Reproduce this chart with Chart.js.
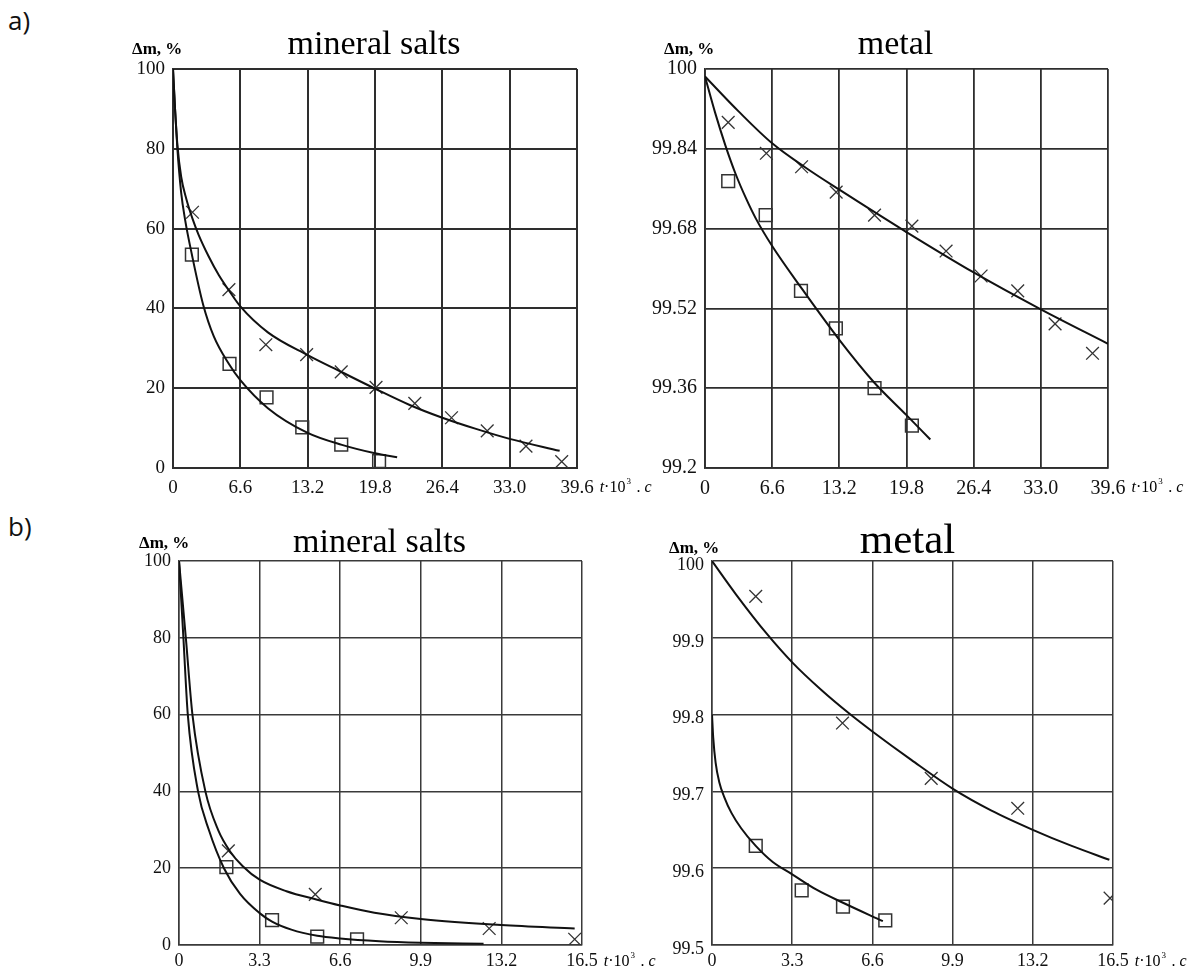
<!DOCTYPE html>
<html>
<head>
<meta charset="utf-8">
<script src="https://cdn.jsdelivr.net/npm/chart.js@4.4.1/dist/chart.umd.min.js"></script>
<style>
  html, body { margin: 0; padding: 0; background: #fff; overflow: hidden; }
  body { width: 1198px; height: 970px; position: relative; }
  canvas { position: absolute; }
  .part { position: absolute; font: 26px "Open Sans", sans-serif; color: #111; }
</style>
</head>
<body>
<div class="part" style="left:8px;top:2px">a)</div>
<div class="part" style="left:8px;top:508px">b)</div>
<canvas id="aSalt" width="560" height="500" style="left:100px;top:0px"></canvas>
<canvas id="aMetal" width="578" height="500" style="left:620px;top:0px"></canvas>
<canvas id="bSalt" width="560" height="480" style="left:100px;top:500px"></canvas>
<canvas id="bMetal" width="578" height="480" style="left:620px;top:500px"></canvas>
<script>
// tick values / labels
const aTimeTicks = [0, 6.6, 13.2, 19.8, 26.4, 33.0, 39.6];
const aTimeLabels = ["0", "6.6", "13.2", "19.8", "26.4", "33.0", "39.6"];
const bTimeTicks = [0, 3.3, 6.6, 9.9, 13.2, 16.5];
const bTimeLabels = ["0", "3.3", "6.6", "9.9", "13.2", "16.5"];
const saltTicks = [0, 20, 40, 60, 80, 100];
const saltLabels = ["0", "20", "40", "60", "80", "100"];
const aMetalTicks = [99.2, 99.36, 99.52, 99.68, 99.84, 100];
const aMetalLabels = ["99.2", "99.36", "99.52", "99.68", "99.84", "100"];
const bMetalTicks = [99.5, 99.6, 99.7, 99.8, 99.9, 100];
const bMetalLabels = ["99.5", "99.6", "99.7", "99.8", "99.9", "100"];

// a) mineral salts
const aSaltSqX = [1.85, 5.54, 9.17, 12.67, 16.49, 20.2];
const aSaltSqY = [53.5, 26.1, 17.7, 10.2, 5.85, 1.7];
const aSaltCrX = [1.91, 5.48, 9.1, 13.1, 16.49, 19.9, 23.7, 27.3, 30.8, 34.6, 38.1];
const aSaltCrY = [64.1, 44.7, 30.9, 28.4, 24.1, 20.2, 16.2, 12.6, 9.3, 5.5, 1.6];
const aSaltSqFitX = [0, 0.2, 0.43, 0.8, 1.2, 1.85, 2.95, 4.0, 5.5, 6.6, 9.3, 13.2, 16.56, 19.8, 21.97];
const aSaltSqFitY = [100, 90, 80, 69, 62, 53.5, 41, 33, 26, 22, 15, 8.8, 5.8, 3.7, 2.7];
const aSaltCrFitX = [0, 0.2, 0.43, 0.8, 1.3, 1.91, 2.5, 3.5, 4.5, 5.48, 6.6, 9.3, 13.2, 16.56, 19.8, 23.2, 26.4, 29.7, 33, 37.9];
const aSaltCrFitY = [100, 90, 81, 73, 67.5, 62.5, 58.5, 53, 48.3, 44.5, 40.5, 34, 28.3, 24, 19.9, 15.8, 12.6, 9.8, 7.3, 4.3];

// a) metal
const aMetalSqX = [2.28, 5.96, 9.43, 12.86, 16.66, 20.33];
const aMetalSqY = [99.775, 99.707, 99.555, 99.48, 99.36, 99.285];
const aMetalCrX = [2.28, 6.03, 9.49, 12.89, 16.66, 20.33, 23.69, 27.13, 30.73, 34.4, 38.08];
const aMetalCrY = [99.893, 99.831, 99.804, 99.753, 99.707, 99.685, 99.635, 99.585, 99.555, 99.489, 99.43];
const aMetalSqFitX = [0, 1.0, 2.0, 3.0, 4.0, 5.0, 6.6, 9.5, 13.2, 16.6, 19.8, 22.14];
const aMetalSqFitY = [99.985, 99.912, 99.847, 99.79, 99.742, 99.70, 99.645, 99.56, 99.457, 99.372, 99.306, 99.257];
const aMetalCrFitX = [0, 3.3, 6.6, 9.9, 13.2, 19.8, 26.4, 33, 39.6];
const aMetalCrFitY = [99.985, 99.915, 99.851, 99.802, 99.758, 99.673, 99.592, 99.518, 99.449];

// b) mineral salts
const bSaltSqX = [1.94, 3.81, 5.66, 7.29];
const bSaltSqY = [20.3, 6.5, 2.2, 1.5];
const bSaltCrX = [2.02, 5.58, 9.1, 12.7, 16.2];
const bSaltCrY = [24.5, 13.2, 7.1, 4.3, 1.5];
const bSaltSqFitX = [0, 0.18, 0.36, 0.78, 1.22, 1.84, 2.5, 3.3, 3.81, 4.6, 5.66, 6.6, 8.2, 9.9, 12.47];
const bSaltSqFitY = [100, 80, 60, 40, 30, 20, 13.3, 8.3, 6.1, 4.0, 2.4, 1.7, 1.0, 0.6, 0.3];
const bSaltCrFitX = [0, 0.28, 0.55, 1.08, 1.6, 2.1, 2.61, 3.3, 4.4, 5.66, 6.6, 8.0, 9.9, 13.2, 16.2];
const bSaltCrFitY = [100, 80, 60, 40, 30, 24.3, 20.5, 17, 14, 11.8, 10.3, 8.4, 6.8, 5.2, 4.3];

// b) metal
const bMetalSqX = [1.8, 3.69, 5.39, 7.13];
const bMetalSqY = [99.629, 99.571, 99.55, 99.532];
const bMetalCrX = [1.8, 5.37, 9.02, 12.58, 16.38];
const bMetalCrY = [99.954, 99.789, 99.717, 99.678, 99.561];
const bMetalSqFitX = [0, 0.05, 0.15, 0.3, 0.5, 0.8, 1.2, 1.8, 2.5, 3.3, 4.3, 5.39, 7.03];
const bMetalSqFitY = [99.8, 99.77, 99.737, 99.712, 99.693, 99.672, 99.652, 99.629, 99.608, 99.592, 99.572, 99.555, 99.531];
const bMetalCrFitX = [0, 1.0, 2.26, 3.3, 4.5, 5.66, 6.6, 8.2, 9.93, 11.5, 13.2, 14.8, 16.35];
const bMetalCrFitY = [100, 99.956, 99.905, 99.868, 99.832, 99.801, 99.778, 99.741, 99.703, 99.675, 99.65, 99.629, 99.611];

const serif = '"Liberation Serif", "Times New Roman", serif';

function pts(xs, ys) {
  return xs.map((x, i) => ({ x: x, y: ys[i] }));
}

// title, "Δm, %" and the time unit after the last x label
const decor = {
  id: "decor",
  afterDraw(chart, args, o) {
    const ctx = chart.ctx;
    const a = chart.chartArea;
    const x = chart.scales.x;
    ctx.save();
    ctx.fillStyle = "#000";
    ctx.textBaseline = "alphabetic";

    ctx.textAlign = "center";
    ctx.font = o.titleFont;
    ctx.fillText(o.title, (a.left + a.right) / 2 + o.titleDx, a.top - o.titleUp);

    ctx.textAlign = "left";
    ctx.font = "bold 17px " + serif;
    ctx.fillText("Δm, %", a.left - o.yLabelLeft, a.top - o.yLabelUp);

    ctx.font = o.tickSize + "px " + serif;
    const lastLabel = o.xLabels[o.xLabels.length - 1];
    let px = x.getPixelForValue(x.max) + ctx.measureText(lastLabel).width / 2 + 6;
    const py = a.bottom + o.unitDown;
    ctx.font = "italic 16px " + serif;
    ctx.fillText("t", px, py);
    px += ctx.measureText("t").width;
    ctx.font = "16px " + serif;
    ctx.fillText("·10", px, py);
    px += ctx.measureText("·10").width + 1;
    ctx.font = "9px " + serif;
    ctx.fillText("3", px, py - 8);
    px += 6;
    ctx.font = "16px " + serif;
    ctx.fillText(" . ", px, py);
    px += ctx.measureText(" . ").width;
    ctx.font = "italic 16px " + serif;
    ctx.fillText("c", px, py);
    ctx.restore();
  }
};

function makePanel(id, p) {
  const gridColor = p.gridColor;
  new Chart(document.getElementById(id), {
    type: "scatter",
    data: {
      datasets: [
        {
          data: pts(p.sqFitX, p.sqFitY), showLine: true, pointRadius: 0,
          borderColor: "#111", borderWidth: 2, cubicInterpolationMode: "monotone"
        },
        {
          data: pts(p.crFitX, p.crFitY), showLine: true, pointRadius: 0,
          borderColor: "#111", borderWidth: 2, cubicInterpolationMode: "monotone"
        },
        {
          data: pts(p.sqX, p.sqY), pointStyle: "rect", pointRadius: 9,
          borderColor: "#333", borderWidth: 1.5, backgroundColor: "rgba(0,0,0,0)"
        },
        {
          data: pts(p.crX, p.crY), pointStyle: "crossRot", pointRadius: 9,
          borderColor: "#333", borderWidth: 1.3
        }
      ]
    },
    options: {
      responsive: false,
      animation: false,
      devicePixelRatio: 1,
      layout: { padding: { left: 0, top: p.top, right: p.right, bottom: 0 } },
      plugins: {
        legend: { display: false },
        tooltip: { enabled: false },
        decor: p.decor
      },
      scales: {
        x: {
          type: "linear",
          min: p.xTicks[0],
          max: p.xTicks[p.xTicks.length - 1],
          afterBuildTicks: (s) => { s.ticks = p.xTicks.map(v => ({ value: v })); },
          afterFit: (s) => { s.height = p.xAxisH; },
          ticks: {
            autoSkip: false, maxRotation: 0, padding: p.xPad, color: "#111",
            font: { family: serif, size: p.decor.tickSize },
            callback: (v, i) => p.xLabels[i]
          },
          grid: { color: gridColor, lineWidth: p.gridW, drawTicks: false },
          border: { color: gridColor, width: p.gridW }
        },
        y: {
          type: "linear",
          min: p.yTicks[0],
          max: p.yTicks[p.yTicks.length - 1],
          afterBuildTicks: (s) => { s.ticks = p.yTicks.map(v => ({ value: v })); },
          afterFit: (s) => { s.width = p.yAxisW; },
          ticks: {
            autoSkip: false, padding: 8, color: "#111", labelOffset: p.yLabelOffset,
            font: { family: serif, size: p.decor.tickSize },
            callback: (v, i) => p.yLabels[i]
          },
          grid: { color: gridColor, lineWidth: p.gridW, drawTicks: false },
          border: { color: gridColor, width: p.gridW }
        }
      }
    },
    plugins: [decor]
  });
}

makePanel("aSalt", {
  sqX: aSaltSqX, sqY: aSaltSqY, crX: aSaltCrX, crY: aSaltCrY,
  sqFitX: aSaltSqFitX, sqFitY: aSaltSqFitY, crFitX: aSaltCrFitX, crFitY: aSaltCrFitY,
  xTicks: aTimeTicks, xLabels: aTimeLabels, yTicks: saltTicks, yLabels: saltLabels,
  top: 69, right: 83, yAxisW: 73, xAxisH: 32, xPad: 9, yLabelOffset: 0,
  gridColor: "#2e2e2e", gridW: 2,
  decor: {
    title: "mineral salts", titleFont: "34px " + serif, titleDx: -1, titleUp: 15,
    yLabelLeft: 41, yLabelUp: 15, unitDown: 24, tickSize: 19, xLabels: aTimeLabels
  }
});

makePanel("aMetal", {
  sqX: aMetalSqX, sqY: aMetalSqY, crX: aMetalCrX, crY: aMetalCrY,
  sqFitX: aMetalSqFitX, sqFitY: aMetalSqFitY, crFitX: aMetalCrFitX, crFitY: aMetalCrFitY,
  xTicks: aTimeTicks, xLabels: aTimeLabels, yTicks: aMetalTicks, yLabels: aMetalLabels,
  top: 69, right: 90, yAxisW: 85, xAxisH: 32, xPad: 9, yLabelOffset: 0,
  gridColor: "#2e2e2e", gridW: 1.8,
  decor: {
    title: "metal", titleFont: "34px " + serif, titleDx: -11, titleUp: 15,
    yLabelLeft: 41, yLabelUp: 15, unitDown: 24, tickSize: 20, xLabels: aTimeLabels
  }
});

makePanel("bSalt", {
  sqX: bSaltSqX, sqY: bSaltSqY, crX: bSaltCrX, crY: bSaltCrY,
  sqFitX: bSaltSqFitX, sqFitY: bSaltSqFitY, crFitX: bSaltCrFitX, crFitY: bSaltCrFitY,
  xTicks: bTimeTicks, xLabels: bTimeLabels, yTicks: saltTicks, yLabels: saltLabels,
  top: 61, right: 78, yAxisW: 79, xAxisH: 35, xPad: 5, yLabelOffset: 0,
  gridColor: "#3a3a3a", gridW: 1.5,
  decor: {
    title: "mineral salts", titleFont: "34px " + serif, titleDx: -1, titleUp: 9,
    yLabelLeft: 40, yLabelUp: 13, unitDown: 21, tickSize: 18, xLabels: bTimeLabels
  }
});

makePanel("bMetal", {
  sqX: bMetalSqX, sqY: bMetalSqY, crX: bMetalCrX, crY: bMetalCrY,
  sqFitX: bMetalSqFitX, sqFitY: bMetalSqFitY, crFitX: bMetalCrFitX, crFitY: bMetalCrFitY,
  xTicks: bTimeTicks, xLabels: bTimeLabels, yTicks: bMetalTicks, yLabels: bMetalLabels,
  top: 61, right: 85, yAxisW: 92, xAxisH: 35, xPad: 5, yLabelOffset: 4,
  gridColor: "#3a3a3a", gridW: 1.5,
  decor: {
    title: "metal", titleFont: "43px " + serif, titleDx: -5, titleUp: 8,
    yLabelLeft: 43, yLabelUp: 8, unitDown: 21, tickSize: 18, xLabels: bTimeLabels
  }
});
</script>
</body>
</html>
